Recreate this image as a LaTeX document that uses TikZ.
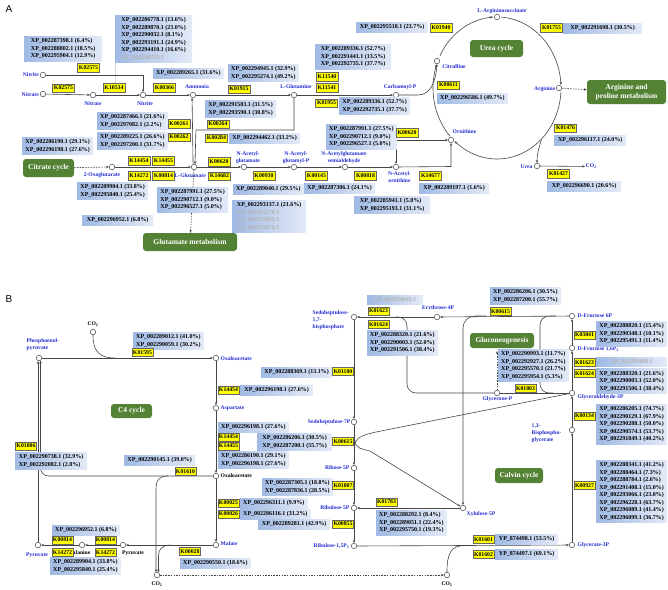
\documentclass[tikz,border=0pt]{standalone}
\usepackage{fontspec}
\setmainfont{Liberation Serif}
\setsansfont{Liberation Sans}
\usetikzlibrary{arrows.meta,calc}
\definecolor{xpL}{RGB}{160,186,228}
\definecolor{xpR}{RGB}{228,234,247}
\definecolor{kyel}{RGB}{255,255,0}
\definecolor{grn}{RGB}{84,130,53}
\definecolor{lblue}{RGB}{35,45,210}
\definecolor{ln}{RGB}{70,70,70}
\newcommand\X{XP\_}
\newcommand\G[1]{{\color{black!30}#1}}
\newcommand\XB[5]{\node[xp,minimum width=#4pt] (#1) at (#2,#3) {#5};}
\tikzset{
 xp/.style={left color=xpL,right color=xpR,draw=none,anchor=north west,align=left,font=\fontsize{6}{7.5}\selectfont\bfseries,inner xsep=3pt,inner ysep=2.2pt,text=black},
 ko/.style={fill=kyel,draw=black!60,line width=0.3pt,font=\fontsize{5.8}{6}\selectfont\bfseries,inner sep=0pt,minimum width=22pt,minimum height=8.5pt},
 met/.style={circle,draw=ln,fill=white,line width=0.5pt,minimum size=5.5pt,inner sep=0pt},
 lb/.style={text=lblue,font=\fontsize{5.6}{7}\selectfont\bfseries,inner sep=0.5pt},
 bk/.style={text=black,font=\fontsize{5.6}{7}\selectfont\bfseries,inner sep=0.5pt},
 gbox/.style={fill=grn,rounded corners=3pt,text=white,font=\fontsize{7.5}{8.5}\selectfont\bfseries,align=center,inner sep=1pt},
 cn/.style={draw=ln,line width=0.6pt},
 ar/.style={cn,-{Stealth[length=3pt,width=2.4pt]}},
 arr/.style={cn,{Stealth[length=3pt,width=2.4pt]}-{Stealth[length=3pt,width=2.4pt]}},
 da/.style={ar,dash pattern=on 1.5pt off 1.2pt},
}
\begin{document}
\begin{tikzpicture}[x=1pt,y=-1pt]
\useasboundingbox (0,0) rectangle (668,589);
\fill[white] (0,0) rectangle (668,589);
\node[font=\sffamily\fontsize{10}{10}\selectfont] (pA) at (9,9) {A};
\node[font=\sffamily\fontsize{10}{10}\selectfont] (pB) at (9,299) {B};

%% ================= PANEL A =================
\draw[black!15,line width=0.5pt] (115,63) -- (115,93);
% metabolites
\node[met] (nitI) at (43,75) {}; \node[lb,anchor=east] (lnitI) at (39.5,75) {Nitrite};
\node[met] (natI) at (43,94) {}; \node[lb,anchor=east] (lnatI) at (39.5,94.5) {Nitrate};
\node[met] (natII) at (93,95) {}; \node[lb] (lnatII) at (93,103.5) {Nitrate};
\node[met] (nitII) at (143,95) {}; \node[lb] (lnitII) at (145,103.5) {Nitrite};
\node[met] (amm) at (193,95) {}; \node[lb] (lamm) at (197,87) {Ammonia};
\node[met] (gln) at (294,95) {}; \node[lb] (lgln) at (296,86.5) {L-Glutamine};
\node[met] (cbp) at (396,95) {}; \node[lb] (lcbp) at (400,87) {Carbamoyl-P};
\node[met] (cit) at (437,61) {}; \node[lb] (lcit) at (454,67) {Citrulline};
\node[met] (asuc) at (497,17) {}; \node[lb] (lasuc) at (502,11) {L-Argininosuccinate};
\node[met] (arg) at (559,88) {}; \node[lb,anchor=east] (larg) at (556,89) {Arginine};
\node[met] (orn) at (451,140) {}; \node[lb] (lorn) at (464.5,132) {Ornithine};
\node[met] (urea) at (537,166) {}; \node[lb,anchor=east] (lurea) at (533,166.5) {Urea};
\node[lb,anchor=west] (co2a) at (585,166.5) {CO\textsubscript{2}};
\node[met] (oxo) at (112,167) {}; \node[lb] (loxo) at (102,175.5) {2-Oxoglutarate};
\node[met] (glu) at (194,167) {}; \node[lb,anchor=east] (lglu) at (206.5,175.5) {L-Glutamate};
\node[met] (nag) at (244,167) {}; \node[lb,align=center] (lnag) at (248,158) {N-Acetyl-\\glutamate};
\node[met] (nagp) at (294,167) {}; \node[lb,align=center] (lnagp) at (296,158) {N-Acetyl-\\glutamyl-P};
\node[met] (nags) at (345,167) {}; \node[lb,align=center] (lnags) at (344,158) {N-Acetylglutamate\\semialdehyde};
\node[met] (nao) at (396,167) {}; \node[lb,align=center] (lnao) at (399.5,177.5) {N-Acetyl-\\ornithine};
% green
\node[gbox,minimum width=51pt,minimum height=18pt] (gcit) at (48.5,168) {Citrate cycle};
\node[gbox,minimum width=94pt,minimum height=18pt] (gglu) at (190,242) {Glutamate metabolism};
\node[gbox,minimum width=53pt,minimum height=17pt] (gurea) at (496.5,48.5) {Urea cycle};
\node[gbox,minimum width=79pt,minimum height=24pt] (garg) at (626.5,92) {Arginine and\\proline metabolism};
% connectors
\draw[ar] (nitI) -- (143,75) -- (nitII);
\draw[ar] (natI) -- (natII);
\draw[ar] (natII) -- (nitII);
\draw[ar] (nitII) -- (amm);
\draw[ar] (amm) -- (gln);
\draw[ar] (gln) -- (cbp);
\draw[ar] (gln) -- (294,130) -- (195.9,130) -- (glu.70);
\draw[ar] (glu.108) -- (amm.252);
\draw[da] (gcit) -- (oxo);
\draw[ar] (oxo) -- (glu);
\draw[da] (glu) -- (gglu);
\draw[ar] (glu) -- (nag);
\draw[ar] (nag) -- (nagp);
\draw[ar] (nagp) -- (nags);
\draw[ar] (nags) -- (nao);
\draw[ar] (nao) -- (451,166.5) -- (orn);
\draw[arr] (nao) -- (396,140) -- (orn);
\draw[da] (arg) -- (garg);
\draw[ar] (urea) -- (co2a);
\draw[ar] (cbp) -- (418,95) .. controls (430,95) and (436,82) .. (cit);
\draw[ar] plot[smooth,domain=137:199.5,samples=25] ({497+64*cos(\x)},{88+71*sin(\x)});
\draw[ar] plot[smooth,domain=207:266.5,samples=25] ({497+64*cos(\x)},{88+71*sin(\x)});
\draw[ar] plot[smooth,domain=274:357.5,samples=30] ({497+64*cos(\x)},{88+71*sin(\x)});
\draw[ar] plot[smooth,domain=3:131.5,samples=40] ({497+64*cos(\x)},{88+71*sin(\x)});
\draw[ar] (541.5,139.5) .. controls (539,148) and (537,153) .. (urea);
% XP boxes
\XB{a1}{24}{36}{78}{\X 002287398.1 (6.4\%)\\\X 002288802.1 (18.5\%)\\\X 002295904.1 (12.9\%)}
\XB{a2}{115}{15}{77}{\X 002286778.1 (13.6\%)\\\X 002289870.1 (23.0\%)\\\X 002290032.1 (8.1\%)\\\X 002293191.1 (24.9\%)\\\X 002294410.1 (16.6\%)\\\G{\X 002290753.1}}
\XB{a3}{153}{68}{70}{\X 002289265.1 (31.6\%)}
\XB{a4}{97}{112}{69}{\X 002287466.1 (21.6\%)\\\X 002297082.1 (2.2\%)}
\XB{a5}{97}{132}{69}{\X 002289225.1 (26.6\%)\\\X 002297200.1 (31.7\%)}
\XB{a6}{22}{137}{71}{\X 002286190.1 (29.1\%)\\\X 002296198.1 (27.6\%)}
\XB{a7}{77}{182}{71}{\X 002289904.1 (33.8\%)\\\X 002295840.1 (25.4\%)}
\XB{a8}{82}{215}{71}{\X 002296952.1 (6.8\%)}
\XB{a9}{157}{187}{71}{\X 002287991.1 (27.5\%)\\\X 002290712.1 (9.0\%)\\\X 002296527.1 (5.0\%)}
\XB{a10}{228}{64}{69}{\X 002294945.1 (32.9\%)\\\X 002295274.1 (49.2\%)}
\XB{a11}{205}{100}{71}{\X 002291583.1 (31.5\%)\\\X 002293590.1 (30.8\%)}
\XB{a12}{229}{133}{71}{\X 002294462.1 (33.2\%)}
\XB{a13}{315}{44}{76}{\X 002289336.1 (52.7\%)\\\X 002291441.1 (13.5\%)\\\X 002292735.1 (37.7\%)}
\XB{a14}{339}{97}{71}{\X 002289336.1 (52.7\%)\\\X 002292735.1 (37.7\%)}
\XB{a15}{356}{22}{72}{\X 002295518.1 (23.7\%)}
\XB{a16}{563}{23}{79}{\X 002291698.1 (30.5\%)}
\XB{a17}{437}{93}{70}{\X 002296586.1 (49.7\%)}
\XB{a18}{554}{135}{72}{\X 002296117.1 (24.0\%)}
\XB{a19}{547}{181}{74}{\X 002296690.1 (20.6\%)}
\XB{a20}{326}{124}{69}{\X 002287991.1 (27.5\%)\\\X 002290712.1 (9.0\%)\\\X 002296527.1 (5.0\%)}
\XB{a21}{233}{184}{68}{\X 002289040.1 (29.5\%)}
\XB{a22}{304}{183}{71}{\X 002287306.1 (24.1\%)}
\XB{a23}{354}{196}{76}{\X 002285941.1 (5.8\%)\\\X 002295193.1 (31.1\%)}
\XB{a24}{419}{183}{70}{\X 002289197.1 (1.6\%)}
\XB{a25}{232}{200}{74}{\X 002293137.1 (21.6\%)\\\G{\X 002293270.1}\\\G{\X 002295069.1}\\\G{\X 002295070.1}}
% K boxes
\node[ko] (ka1) at (88.5,67.5) {K02575};
\node[ko] (ka2) at (63.5,88) {K02575};
\node[ko] (ka3) at (114,87.5) {K10534};
\node[ko] (ka4) at (164.5,87.5) {K00366};
\node[ko] (ka5) at (179,123.5) {K00261};
\node[ko] (ka6) at (179,137) {K00262};
\node[ko] (ka7) at (218,124) {K00264};
\node[ko] (ka8) at (216.5,138) {K00284};
\node[ko] (ka9) at (239,89) {K01915};
\node[ko] (ka10) at (327,76.5) {K11540};
\node[ko] (ka11) at (327,87.5) {K11541};
\node[ko] (ka12) at (326.5,103) {K01955};
\node[ko] (ka13) at (441,27.5) {K01940};
\node[ko] (ka14) at (551.5,27.5) {K01755};
\node[ko] (ka15) at (448.5,85) {K00611};
\node[ko] (ka16) at (565.5,128) {K01476};
\node[ko] (ka17) at (558.5,173.5) {K01427};
\node[ko] (ka18) at (407,132.5) {K00620};
\node[ko] (ka19) at (139,160.5) {K14454};
\node[ko] (ka20) at (163.5,160.5) {K14455};
\node[ko] (ka21) at (139,175.5) {K14272};
\node[ko] (ka22) at (163.5,175.5) {K00814};
\node[ko] (ka23) at (219,161.5) {K00620};
\node[ko] (ka24) at (219.5,176) {K14682};
\node[ko] (ka25) at (264,175.5) {K00930};
\node[ko] (ka26) at (316.5,175.5) {K00145};
\node[ko] (ka27) at (365.5,175.5) {K00818};
\node[ko] (ka28) at (430.5,175.5) {K14677};

%% ================= PANEL B =================
\node[met] (pep) at (39,358) {}; \node[lb,align=left,anchor=north west] (lpep) at (26,338) {Phosphoenol-\\pyruvate};
\node[met] (oaaI) at (216,358) {}; \node[lb,anchor=west] (loaaI) at (220,359) {Oxaloacetate};
\node[met] (asp) at (216,408) {}; \node[lb,anchor=west] (lasp) at (220,408) {Aspartate};
\node[met] (oaaII) at (216,476) {}; \node[bk,anchor=west] (loaaII) at (220,476) {Oxaloacetate};
\node[met] (mal) at (216,545) {}; \node[lb,anchor=west] (lmal) at (220,544) {Malate};
\node[met] (pyrI) at (38,545) {}; \node[lb] (lpyrI) at (37,555) {Pyruvate};
\node[met] (ala) at (82,545) {}; \node[bk] (lala) at (81,553) {Alanine};
\node[met] (pyrII) at (123,545) {}; \node[bk] (lpyrII) at (133,553) {Pyruvate};
\node[met] (co2bI) at (93,332) {}; \node[bk] (lco2bI) at (93,324) {CO\textsubscript{2}};
\node[met] (co2bII) at (157,575) {}; \node[bk] (lco2bII) at (157,584) {CO\textsubscript{2}};
\node[met] (co2bIII) at (447,575) {}; \node[bk] (lco2bIII) at (447,584) {CO\textsubscript{2}};
\node[met] (sbp) at (354,317) {}; \node[lb,align=left,anchor=north west] (lsbp) at (312,309.5) {Sedoheptulose-\\1,7-\\bisphosphate};
\node[met] (e4p) at (437,317) {}; \node[lb] (le4p) at (438,308) {Erythrose-4P};
\node[met] (f6p) at (572,316) {}; \node[lb,anchor=west] (lf6p) at (577,316) {D-Fructose 6P};
\node[met] (fbp) at (572,348) {}; \node[lb,anchor=west] (lfbp) at (577,349) {D-Fructose 1,6P\textsubscript{2}};
\node[met] (g3p) at (572,393) {}; \node[lb,anchor=west] (lg3p) at (577,397.5) {Glyceraldehyde-3P};
\node[met] (dhap) at (497,393) {}; \node[lb] (ldhap) at (497.5,399.5) {Glycerone-P};
\node[met] (bpg) at (572,430) {}; \node[lb,align=left,anchor=north west] (lbpg) at (531,423) {1,3-\\Bisphospho-\\glycerate};
\node[met] (pga) at (572,545) {}; \node[lb,anchor=west] (lpga) at (577,545) {Glycerate-3P};
\node[met] (s7p) at (354,422) {}; \node[lb,anchor=east] (ls7p) at (351,422) {Sedoheptulose-7P};
\node[met] (r5p) at (354,468) {}; \node[lb,anchor=east] (lr5p) at (350,468) {Ribose-5P};
\node[met] (ru5p) at (354,508) {}; \node[lb,anchor=east] (lru5p) at (350,508) {Ribulose-5P};
\node[met] (rubp) at (354,546) {}; \node[lb,anchor=east] (lrubp) at (350,546) {Ribulose-1,5P\textsubscript{2}};
\node[met] (x5p) at (463,508) {}; \node[lb,anchor=west] (lx5p) at (466,514.5) {Xylulose-5P};
% green
\node[gbox,minimum width=41pt,minimum height=14pt] (gc4) at (131.5,411) {C4 cycle};
\node[gbox,minimum width=64pt,minimum height=15pt] (ggng) at (502,340.5) {Gluconeogenesis};
\node[gbox,minimum width=48pt,minimum height=15pt] (gcal) at (519,475.5) {Calvin cycle};
% connectors
\draw[ar] (pep) -- (oaaI);
\draw[cn] (co2bI) .. controls (93,352) and (100,358) .. (115,358);
\draw[ar] (oaaI) -- (asp);
\draw[ar] (asp) -- (oaaII);
\draw[ar] (oaaII) -- (mal);
\draw[ar,rounded corners=8] (oaaII) -| (pep.300);
\draw[ar] (pyrI.north) -- (pyrI.north |- pep.south);
\draw[ar] (mal) -- (pyrII);
\draw[ar] (pyrII) -- (ala);
\draw[ar] (ala) -- (pyrI);
\draw[ar] (168,476) .. controls (159,476) and (156,480) .. (156,490) -- (156,572.3);
\draw[ar] (171,545) .. controls (162,545) and (158.5,549) .. (158.5,556) -- (158.5,572.5);
\draw[da] (co2bII) -- (co2bIII);
\draw[cn] (co2bIII) .. controls (447,553) and (451,545.5) .. (465,545.5);
\draw[ar] (rubp) -- (pga);
\draw[ar] (pga) -- (bpg);
\draw[ar] (bpg) -- (g3p);
\draw[ar] (g3p) -- (fbp);
\draw[ar] (fbp) -- (f6p);
\draw[ar] (f6p) -- (e4p);
\draw[ar] (e4p) -- (sbp);
\draw[ar] (sbp) -- (s7p);
\draw[ar] (s7p) -- (r5p);
\draw[ar] (r5p) -- (ru5p);
\draw[ar] (ru5p) -- (rubp);
\draw[ar] (x5p) -- (ru5p);
\draw[cn,rounded corners=9] (553,393) -| (540,316) -- (556,316);
\draw[ar,rounded corners=12] (486,316) -| (x5p);
\draw[cn,rounded corners=9] (396,317) -| (407,393) -- (dhap);
\draw[cn] (dhap) -- (g3p);
\draw[da] (dhap) -- (497,351);
\draw[cn] (g3p) -- (376,432) .. controls (362,435) and (355,438) .. (354.5,446);
\draw[ar] (354.5,440) .. controls (356,449) and (362,449) .. (370,451) -- (x5p);
% XP boxes
\XB{b1}{133}{332}{70}{\X 002289012.1 (41.0\%)\\\X 002290059.1 (30.2\%)}
\XB{b2}{240}{385}{73}{\X 002296198.1 (27.6\%)}
\XB{b3}{261}{367}{71}{\X 002288369.1 (13.1\%)}
\XB{b4}{218}{422}{70}{\X 002296198.1 (27.6\%)}
\XB{b5}{218}{451}{69}{\X 002286190.1 (29.1\%)\\\X 002296198.1 (27.6\%)}
\XB{b6}{240}{498}{66}{\X 002296311.1 (9.9\%)}
\XB{b7}{240}{509}{66}{\X 002286116.1 (31.2\%)}
\XB{b8}{15}{452}{72}{\X 002290738.1 (32.9\%)\\\X 002292082.1 (2.8\%)}
\XB{b9}{124}{455}{71}{\X 002290145.1 (39.0\%)}
\XB{b10}{180}{558}{66}{\X 002290550.1 (18.6\%)}
\XB{b11}{52}{525}{63}{\X 002296952.1 (6.8\%)}
\XB{b12}{50}{557}{70}{\X 002289904.1 (33.8\%)\\\X 002295840.1 (25.4\%)}
\XB{b13}{495}{534}{63}{YP\_874498.1 (53.5\%)}
\XB{b14}{495}{549}{63}{YP\_874497.1 (69.1\%)}
\XB{b15}{490}{287}{68}{\X 002286206.1 (30.5\%)\\\X 002287200.1 (55.7\%)}
\XB{b16}{596}{321}{71}{\X 002288820.1 (15.4\%)\\\X 002290348.1 (10.1\%)\\\X 002295491.1 (11.4\%)}
\XB{b17}{596}{357}{71}{\G{\X 002294849.1}}
\XB{b18}{596}{368.5}{71}{\X 002288320.1 (21.6\%)\\\X 002290003.1 (52.0\%)\\\X 002291506.1 (38.4\%)}
\XB{b19}{596}{404}{71}{\X 002286205.1 (74.7\%)\\\X 002290129.1 (67.9\%)\\\X 002290288.1 (50.0\%)\\\X 002290574.1 (53.7\%)\\\X 002291849.1 (40.2\%)}
\XB{b20}{596}{460}{71}{\X 002288341.1 (41.2\%)\\\X 002288464.1 (7.3\%)\\\X 002288784.1 (2.6\%)\\\X 002291408.1 (15.0\%)\\\X 002293066.1 (23.0\%)\\\X 002296228.1 (63.7\%)\\\X 002296089.1 (41.4\%)\\\X 002296099.1 (36.7\%)}
\XB{b21}{498}{349}{70}{\X 002290993.1 (11.7\%)\\\X 002292927.1 (26.2\%)\\\X 002295570.1 (21.7\%)\\\X 002295954.1 (5.3\%)}
\XB{b22}{367}{295}{56}{\G{\X 002294849.1}}
\XB{b23}{367}{330}{70}{\X 002288320.1 (21.6\%)\\\X 002290003.1 (52.0\%)\\\X 002291506.1 (38.4\%)}
\XB{b24}{257}{433}{75}{\X 002286206.1 (30.5\%)\\\X 002287200.1 (55.7\%)}
\XB{b25}{262}{478}{70}{\X 002287305.1 (18.8\%)\\\X 002287836.1 (28.5\%)}
\XB{b26}{376}{510}{70}{\X 002288292.1 (8.4\%)\\\X 002289051.1 (22.4\%)\\\X 002295750.1 (19.3\%)}
\XB{b27}{258}{519}{72}{\X 002289281.1 (42.9\%)}
% K boxes
\tikzset{ko/.append style={minimum width=21pt,minimum height=8pt}}
\node[ko] (kb1) at (142.5,352.5) {K01595};
\node[ko] (kb2) at (228.5,390) {K14454};
\node[ko] (kb3) at (343,371.5) {K01100};
\node[ko] (kb4) at (228.5,437) {K14454};
\node[ko] (kb5) at (228.5,446) {K14455};
\node[ko] (kb6) at (228.5,503) {K00025};
\node[ko] (kb7) at (228.5,514) {K00026};
\node[ko] (kb8) at (26,446) {K01006};
\node[ko] (kb9) at (185.5,471.5) {K01610};
\node[ko] (kb10) at (190,551.5) {K00028};
\node[ko] (kb11) at (62.5,540) {K00814};
\node[ko] (kb12) at (62.5,552.5) {K14272};
\node[ko] (kb13) at (105.5,540) {K00814};
\node[ko] (kb14) at (105.5,552.5) {K14272};
\node[ko] (kb15) at (483.5,539.5) {K01601};
\node[ko] (kb16) at (483.5,554.5) {K01602};
\node[ko] (kb17) at (500.5,311.5) {K00615};
\node[ko] (kb18) at (584.5,335) {K03841};
\node[ko] (kb19) at (584.5,362.5) {K01623};
\node[ko] (kb20) at (584.5,373.5) {K01624};
\node[ko] (kb21) at (584.5,416) {K00134};
\node[ko] (kb22) at (584.5,485.5) {K00927};
\node[ko] (kb23) at (525.5,388.5) {K01803};
\node[ko] (kb24) at (378.5,311) {K01623};
\node[ko] (kb25) at (378.5,324.5) {K01624};
\node[ko] (kb26) at (343,441.5) {K00615};
\node[ko] (kb27) at (343,485.5) {K01807};
\node[ko] (kb28) at (386.5,502) {K01783};
\node[ko] (kb29) at (343,524) {K00855};
\end{tikzpicture}
\end{document}
